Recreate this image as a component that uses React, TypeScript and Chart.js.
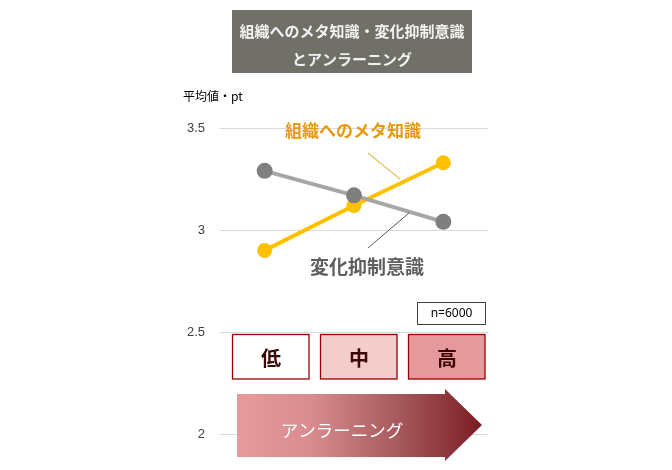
import { useEffect, useRef } from "react";
import { Chart, registerables } from "chart.js";

Chart.register(...registerables);

// ---- data ----
const categories = ["低", "中", "高"];
const changeSuppression = [3.29, 3.17, 3.04];
const metaKnowledge = [2.9, 3.12, 3.33];
const yMin = 2;
const yMax = 3.5;
const yStep = 0.5;
const titleLines = ["組織へのメタ知識・変化抑制意識", "とアンラーニング"];
const yAxisTitle = "平均値・pt";
const seriesNames = ["変化抑制意識", "組織へのメタ知識"];
const sampleNote = "n=6000";
const arrowLabel = "アンラーニング";
const levelFills = ["#FFFFFF", "#F4CCCC", "#E6999C"];

const JP = '"Noto Sans CJK JP", "Noto Sans", sans-serif';

const overlayPlugin = {
  id: "overlay",
  afterDraw(chart: any) {
    const { ctx, chartArea: ca } = chart;
    const L = ca.left;
    const T = ca.top;
    ctx.save();

    // title box
    ctx.fillStyle = "#706F68";
    ctx.fillRect(L + 12, T - 118, 240, 63);
    ctx.fillStyle = "#F2F2F2";
    ctx.font = `bold 15px ${JP}`;
    ctx.textAlign = "center";
    ctx.textBaseline = "middle";
    ctx.fillText(titleLines[0], L + 132, T - 97);
    ctx.fillText(titleLines[1], L + 132, T - 69);

    // y axis title
    ctx.fillStyle = "#000000";
    ctx.font = `12px ${JP}`;
    ctx.textAlign = "left";
    ctx.fillText(yAxisTitle, L - 37, T - 32);

    // series labels + leader lines
    ctx.font = `bold 17px ${JP}`;
    ctx.textAlign = "center";
    ctx.fillStyle = "#E59A12";
    ctx.fillText(seriesNames[1], L + 133, T + 3);
    ctx.strokeStyle = "#E59A12";
    ctx.lineWidth = 1;
    ctx.beginPath();
    ctx.moveTo(L + 148, T + 25);
    ctx.lineTo(L + 180, T + 51);
    ctx.stroke();

    ctx.font = `bold 19px ${JP}`;
    ctx.fillStyle = "#5F5F5F";
    ctx.fillText(seriesNames[0], L + 147, T + 139);
    ctx.strokeStyle = "#595959";
    ctx.beginPath();
    ctx.moveTo(L + 189, T + 85);
    ctx.lineTo(L + 148, T + 120);
    ctx.stroke();

    // n box
    ctx.fillStyle = "#FFFFFF";
    ctx.fillRect(L + 197.5, T + 174.5, 68, 22);
    ctx.strokeStyle = "#404040";
    ctx.strokeRect(L + 197.5, T + 174.5, 68, 22);
    ctx.fillStyle = "#000000";
    ctx.font = `12px "Noto Sans", sans-serif`;
    ctx.fillText(sampleNote, L + 231.5, T + 186);

    // level boxes
    categories.forEach((c, i) => {
      const x = L + 12.5 + i * 88;
      ctx.fillStyle = levelFills[i];
      ctx.fillRect(x, T + 206.5, 76.5, 44.5);
      ctx.strokeStyle = "#9B0000";
      ctx.lineWidth = 1.3;
      ctx.strokeRect(x, T + 206.5, 76.5, 44.5);
      ctx.fillStyle = "#3A0606";
      ctx.font = `bold 20px ${JP}`;
      ctx.fillText(c, x + 38.5, T + 230);
    });

    // arrow
    const ax0 = L + 17;
    const ax1 = L + 225;
    const tip = ca.right - 6;
    const g = ctx.createLinearGradient(ax0, 0, tip, 0);
    g.addColorStop(0, "#E89A9C");
    g.addColorStop(0.3, "#D98C8F");
    g.addColorStop(0.65, "#A85B5F");
    g.addColorStop(1, "#7A1C22");
    ctx.fillStyle = g;
    ctx.beginPath();
    ctx.moveTo(ax0, T + 266);
    ctx.lineTo(ax1, T + 266);
    ctx.lineTo(ax1, T + 261);
    ctx.lineTo(tip, T + 297);
    ctx.lineTo(ax1, T + 333);
    ctx.lineTo(ax1, T + 329);
    ctx.lineTo(ax0, T + 329);
    ctx.closePath();
    ctx.fill();
    ctx.fillStyle = "#FFFFFF";
    ctx.font = `17.5px ${JP}`;
    ctx.fillText(arrowLabel, L + 122, T + 302);

    ctx.restore();
  },
};

export default function App() {
  const ref = useRef<HTMLCanvasElement | null>(null);
  useEffect(() => {
    if (!ref.current) return;
    const chart = new Chart(ref.current, {
      type: "line",
      data: {
        labels: categories,
        datasets: [
          {
            label: seriesNames[0],
            data: changeSuppression,
            borderColor: "#A6A6A6",
            borderWidth: 4,
            pointRadius: 8,
            pointBackgroundColor: "#7F7F7F",
            pointBorderWidth: 0,
            order: 0,
          },
          {
            label: seriesNames[1],
            data: metaKnowledge,
            borderColor: "#FFC000",
            borderWidth: 4,
            pointRadius: 7.5,
            pointBackgroundColor: "#FFC000",
            pointBorderWidth: 0,
            order: 1,
          },
        ],
      },
      options: {
        animation: false,
        responsive: true,
        maintainAspectRatio: false,
        layout: { padding: { left: 0, right: 184, top: 128, bottom: 36 } },
        plugins: {
          legend: { display: false },
          tooltip: { enabled: false },
          title: { display: false },
        },
        scales: {
          x: { display: false, offset: true },
          y: {
            min: yMin,
            max: yMax,
            ticks: {
              stepSize: yStep,
              padding: 15,
              color: "#404040",
              font: { size: 13, family: '"Liberation Sans", Arial, sans-serif' },
              callback: (v: any) => `${Number(v)}`,
            },
            grid: { color: "#D9D9D9", drawTicks: false },
            border: { display: false },
            afterFit: (s: any) => {
              s.width = 220;
            },
          },
        },
      },
      plugins: [overlayPlugin],
    });
    return () => chart.destroy();
  }, []);
  return (
    <div style={{ position: "fixed", left: 0, top: 0, width: 672, height: 470, background: "#fff" }}>
      <canvas ref={ref} />
    </div>
  );
}
